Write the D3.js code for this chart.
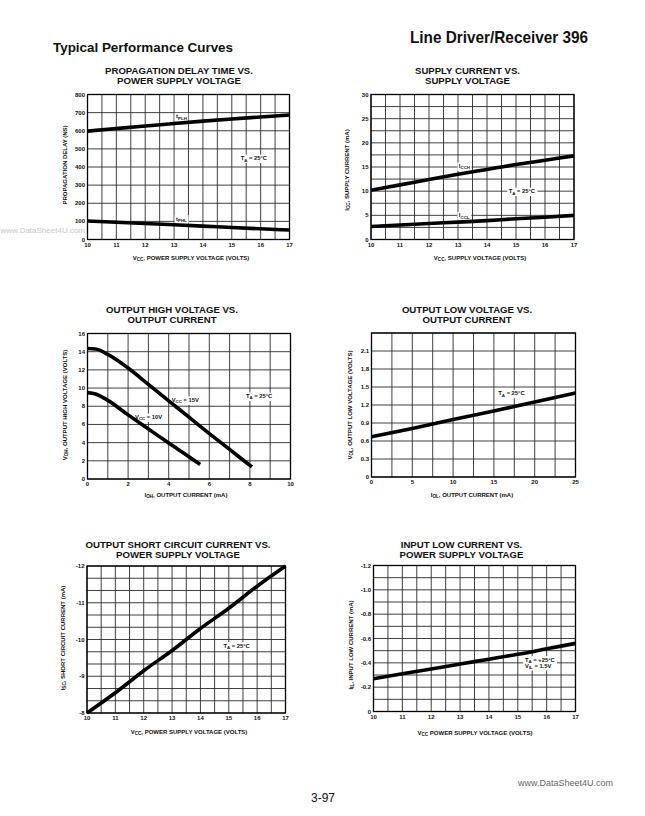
<!DOCTYPE html>
<html>
<head>
<meta charset="utf-8">
<script src="https://cdn.jsdelivr.net/npm/d3@7/dist/d3.min.js"></script>
<style>
  body { margin: 0; background: #fff; }
  text { font-family: "Liberation Sans", Arial, Helvetica, sans-serif; fill: #111; }
</style>
</head>
<body>
<svg id="page" width="645" height="816"></svg>
<script>
// ---- values ----
const vccVolts = [10, 11, 12, 13, 14, 15, 16, 17];
const vccLabels = ["10", "11", "12", "13", "14", "15", "16", "17"];

// propagation delay (ns)
const tplhNs = [598, 612, 626, 640, 653, 665, 676, 687];
const tphlNs = [102, 95, 88, 81, 74, 66, 59, 52];
const delayTicks = [0, 100, 200, 300, 400, 500, 600, 700, 800];

// supply current (mA)
const iccHigh = [10.2, 11.3, 12.4, 13.5, 14.5, 15.5, 16.4, 17.3];
const iccLow = [2.7, 3.0, 3.3, 3.6, 3.9, 4.3, 4.6, 5.0];
const iccTicks = [0, 5, 10, 15, 20, 25, 30];

// output high voltage vs output current
const iohMa15 = [0, 0.4, 1, 2, 3, 4, 5, 6, 7, 8, 8.1];
const voh15 = [14.35, 14.3, 13.7, 12.2, 10.4, 8.6, 6.8, 5.0, 3.25, 1.5, 1.33];
const iohMa10 = [0, 0.4, 1, 2, 3, 4, 5, 5.55];
const voh10 = [9.5, 9.35, 8.65, 7.05, 5.5, 3.95, 2.45, 1.6];
const vohTicks = [0, 2, 4, 6, 8, 10, 12, 14, 16];
const iohTicks = [0, 2, 4, 6, 8, 10];

// output low voltage vs output current
const iolMa = [0, 5, 10, 15, 20, 25];
const volVolts = [0.67, 0.81, 0.96, 1.10, 1.25, 1.40];
const volTicks = [0, 0.3, 0.6, 0.9, 1.2, 1.5, 1.8, 2.1];
const volLabels = ["0", "0.3", "0.6", "0.9", "1.2", "1.5", "1.8", "2.1"];
const iolTicks = [0, 5, 10, 15, 20, 25];

// short circuit current (mA)
const iscMa = [-8.0, -8.55, -9.15, -9.7, -10.3, -10.85, -11.45, -12.0];
const iscTicks = [-8, -9, -10, -11, -12];
const iscLabels = ["-8", "-9", "-10", "-11", "-12"];

// input low current (mA)
const iilMa = [-0.27, -0.31, -0.35, -0.39, -0.43, -0.47, -0.515, -0.56];
const iilTicks = [0, -0.2, -0.4, -0.6, -0.8, -1.0, -1.2];
const iilLabels = ["0", "-0.2", "-0.4", "-0.6", "-0.8", "-1.0", "-1.2"];

const svg = d3.select("#page");

// text made of [string, isSubscript] pieces
function richText(sel, parts, subSize) {
    let down = false;
    parts.forEach(p => {
        const t = sel.append("tspan").text(p[0]);
        if (p[1]) {
            t.attr("font-size", subSize);
            if (!down) { t.attr("dy", 1.4); down = true; }
        } else if (down) {
            t.attr("dy", -1.4); down = false;
        }
    });
    return sel;
}

function drawChart(c) {
    const g = svg.append("g");
    const x = d3.scaleLinear().domain(c.xDomain).range([c.left, c.right]);
    const y = d3.scaleLinear().domain(c.yDomain).range([c.bottom, c.top]);

    // grid
    d3.range(c.xDomain[0], c.xDomain[1] + 1e-9, c.xStep).forEach(v => {
        g.append("line").attr("x1", x(v)).attr("x2", x(v))
            .attr("y1", c.top).attr("y2", c.bottom)
            .attr("stroke", "#2a2a2a").attr("stroke-width", 0.9);
    });
    const ySteps = Math.round(Math.abs(c.yDomain[1] - c.yDomain[0]) / c.yStep);
    for (let i = 0; i <= ySteps; i++) {
        const v = c.yDomain[0] + (c.yDomain[1] - c.yDomain[0]) * i / ySteps;
        g.append("line").attr("y1", y(v)).attr("y2", y(v))
            .attr("x1", c.left).attr("x2", c.right)
            .attr("stroke", "#2a2a2a").attr("stroke-width", 0.9);
    }
    g.append("rect").attr("x", c.left).attr("y", c.top)
        .attr("width", c.right - c.left).attr("height", c.bottom - c.top)
        .attr("fill", "none").attr("stroke", "#000").attr("stroke-width", 1.3);

    // tick labels
    c.xTicks.forEach((v, i) => {
        g.append("text").attr("x", x(v)).attr("y", c.bottom + 7)
            .attr("text-anchor", "middle").attr("font-size", 6).attr("font-weight", "bold")
            .text(c.xLabels ? c.xLabels[i] : v);
    });
    c.yTicks.forEach((v, i) => {
        g.append("text").attr("x", c.left - 2.5).attr("y", y(v) + 2)
            .attr("text-anchor", "end").attr("font-size", 6).attr("font-weight", "bold")
            .text(c.yLabels ? c.yLabels[i] : v);
    });

    // titles
    c.title.forEach((line, i) => {
        g.append("text").attr("x", c.titleX).attr("y", c.titleY + i * 10)
            .attr("text-anchor", "middle").attr("font-size", 9.6).attr("font-weight", "bold")
            .text(line);
    });
    richText(g.append("text").attr("x", c.xTitleX).attr("y", c.xTitleY)
        .attr("text-anchor", "middle").attr("font-size", 6).attr("font-weight", "bold"),
        c.xTitle, 4.6);
    richText(g.append("text")
        .attr("transform", `translate(${c.yTitleX},${c.yTitleY}) rotate(-90)`)
        .attr("text-anchor", "middle").attr("font-size", 6).attr("font-weight", "bold"),
        c.yTitle, 4.6);

    // curves
    const line = d3.line().x(d => x(d[0])).y(d => y(d[1])).curve(d3.curveMonotoneX);
    c.series.forEach(s => {
        g.append("path").attr("d", line(d3.zip(s.xs, s.ys)))
            .attr("fill", "none").attr("stroke", "#000")
            .attr("stroke-width", 3.6).attr("stroke-linecap", "butt");
    });

    // annotations
    c.notes.forEach(n => {
        n.lines.forEach((parts, i) => {
            const t = g.append("text").attr("x", x(n.at[0])).attr("y", y(n.at[1]) + i * 6)
                .attr("font-size", 5.8).attr("font-weight", "bold");
            richText(t, parts, 4.4);
            if (n.knock) {
                const b = t.node().getBBox();
                g.insert("rect", "text").attr("x", b.x - 1.5).attr("y", b.y - 0.5)
                    .attr("width", b.width + 3).attr("height", b.height + 1).attr("fill", "#fff");
            }
        });
    });
}

const vccTitle = [["V"], ["CC", 1], [", POWER SUPPLY VOLTAGE (VOLTS)"]];

drawChart({
    left: 87.5, right: 289.5, top: 94.5, bottom: 239.5,
    xDomain: [10, 17], xStep: 0.5, yDomain: [0, 800], yStep: 100,
    xTicks: vccVolts, xLabels: vccLabels, yTicks: delayTicks,
    title: ["PROPAGATION DELAY TIME VS.", "POWER SUPPLY VOLTAGE"], titleX: 179, titleY: 74,
    xTitle: vccTitle, xTitleX: 191, xTitleY: 260,
    yTitle: [["PROPAGATION DELAY (NS)"]], yTitleX: 67, yTitleY: 165,
    series: [{xs: vccVolts, ys: tplhNs}, {xs: vccVolts, ys: tphlNs}],
    notes: [
        {at: [13.07, 668], lines: [[["t"], ["PLH", 1]]], knock: true},
        {at: [13.07, 104], lines: [[["t"], ["PHL", 1]]], knock: true},
        {at: [15.31, 438], lines: [[["T"], ["A", 1], [" = 25°C"]]], knock: true}
    ]
});

drawChart({
    left: 371, right: 574, top: 94.5, bottom: 239.5,
    xDomain: [10, 17], xStep: 0.5, yDomain: [0, 30], yStep: 2.5,
    xTicks: vccVolts, xLabels: vccLabels, yTicks: iccTicks,
    title: ["SUPPLY CURRENT VS.", "SUPPLY VOLTAGE"], titleX: 467.5, titleY: 74,
    xTitle: [["V"], ["CC", 1], [", SUPPLY VOLTAGE (VOLTS)"]], xTitleX: 480, xTitleY: 260,
    yTitle: [["I"], ["CC", 1], [", SUPPLY CURRENT (mA)"]], yTitleX: 349, yTitleY: 170,
    series: [{xs: vccVolts, ys: iccHigh}, {xs: vccVolts, ys: iccLow}],
    notes: [
        {at: [13.03, 14.8], lines: [[["I"], ["CCH", 1]]], knock: true},
        {at: [13.03, 4.6], lines: [[["I"], ["CCL", 1]]], knock: true},
        {at: [14.75, 9.6], lines: [[["T"], ["A", 1], [" = 25°C"]]], knock: true}
    ]
});

drawChart({
    left: 87.5, right: 290.5, top: 333.5, bottom: 479,
    xDomain: [0, 10], xStep: 1, yDomain: [0, 16], yStep: 2,
    xTicks: iohTicks, yTicks: vohTicks,
    title: ["OUTPUT HIGH VOLTAGE VS.", "OUTPUT CURRENT"], titleX: 172, titleY: 313,
    xTitle: [["I"], ["OH", 1], [", OUTPUT CURRENT (mA)"]], xTitleX: 186, xTitleY: 497,
    yTitle: [["V"], ["OH", 1], [", OUTPUT HIGH VOLTAGE (VOLTS)"]], yTitleX: 67, yTitleY: 405,
    series: [{xs: iohMa15, ys: voh15}, {xs: iohMa10, ys: voh10}],
    notes: [
        {at: [4.15, 8.47], lines: [[["V"], ["CC", 1], [" = 15V"]]], knock: true},
        {at: [2.34, 6.6], lines: [[["V"], ["CC", 1], [" = 10V"]]], knock: true},
        {at: [7.81, 8.9], lines: [[["T"], ["A", 1], [" = 25°C"]]], knock: true}
    ]
});

drawChart({
    left: 371.5, right: 575.5, top: 333, bottom: 477,
    xDomain: [0, 25], xStep: 2.5, yDomain: [0, 2.4], yStep: 0.3,
    xTicks: iolTicks, yTicks: volTicks, yLabels: volLabels,
    title: ["OUTPUT LOW VOLTAGE VS.", "OUTPUT CURRENT"], titleX: 467, titleY: 313,
    xTitle: [["I"], ["OL", 1], [", OUTPUT CURRENT (mA)"]], xTitleX: 472, xTitleY: 497,
    yTitle: [["V"], ["OL", 1], [", OUTPUT LOW VOLTAGE (VOLTS)"]], yTitleX: 352, yTitleY: 405,
    series: [{xs: iolMa, ys: volVolts}],
    notes: [
        {at: [15.54, 1.36], lines: [[["T"], ["A", 1], [" = 25°C"]]], knock: true}
    ]
});

drawChart({
    left: 87, right: 285.5, top: 566, bottom: 713,
    xDomain: [10, 17], xStep: 0.5, yDomain: [-8, -12], yStep: 1 / 3,
    xTicks: vccVolts, xLabels: vccLabels, yTicks: iscTicks, yLabels: iscLabels,
    title: ["OUTPUT SHORT CIRCUIT CURRENT VS.", "POWER SUPPLY VOLTAGE"], titleX: 178, titleY: 548,
    xTitle: vccTitle, xTitleX: 189, xTitleY: 734,
    yTitle: [["I"], ["SC", 1], [", SHORT CIRCUIT CURRENT (mA)"]], yTitleX: 65, yTitleY: 638,
    series: [{xs: vccVolts, ys: iscMa}],
    notes: [
        {at: [14.81, -9.78], lines: [[["T"], ["A", 1], [" = 25°C"]]], knock: true}
    ]
});

drawChart({
    left: 373.5, right: 575.5, top: 565.5, bottom: 711.5,
    xDomain: [10, 17], xStep: 0.5, yDomain: [0, -1.2], yStep: 0.1,
    xTicks: vccVolts, xLabels: vccLabels, yTicks: iilTicks, yLabels: iilLabels,
    title: ["INPUT LOW CURRENT VS.", "POWER SUPPLY VOLTAGE"], titleX: 461.5, titleY: 548,
    xTitle: [["V"], ["CC", 1], [" POWER SUPPLY VOLTAGE (VOLTS)"]], xTitleX: 475, xTitleY: 735,
    yTitle: [["I"], ["IL", 1], [", INPUT LOW CURRENT (mA)"]], yTitleX: 353, yTitleY: 645,
    series: [{xs: vccVolts, ys: iilMa}],
    notes: [
        {at: [15.25, -0.41], lines: [[["T"], ["A", 1], [" = +25°C"]], [["V"], ["IL", 1], [" = 1.5V"]]], knock: true}
    ]
});

// page header / footer
svg.append("text").attr("x", 588).attr("y", 43).attr("text-anchor", "end")
    .attr("font-size", 17).attr("font-weight", "bold")
    .attr("textLength", 178).attr("lengthAdjust", "spacingAndGlyphs")
    .text("Line Driver/Receiver 396");
svg.append("text").attr("x", 53).attr("y", 52)
    .attr("font-size", 12).attr("font-weight", "bold")
    .attr("textLength", 180).attr("lengthAdjust", "spacingAndGlyphs")
    .text("Typical Performance Curves");
svg.append("text").attr("x", 323).attr("y", 802).attr("text-anchor", "middle")
    .attr("font-size", 12).text("3-97");
svg.append("text").attr("x", 613).attr("y", 786).attr("text-anchor", "end")
    .attr("font-size", 9).style("fill", "#666").text("www.DataSheet4U.com");
svg.append("text").attr("x", 85).attr("y", 233).attr("text-anchor", "end")
    .attr("font-size", 8).style("fill", "#c8c8c8").text("www.DataSheet4U.com");
</script>
</body>
</html>
